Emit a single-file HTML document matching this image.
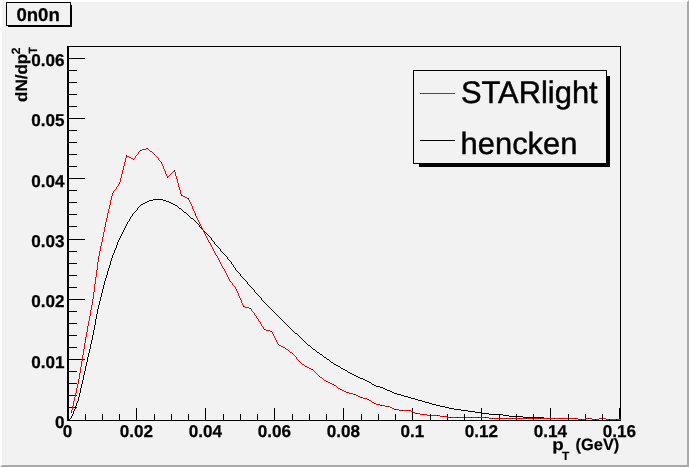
<!DOCTYPE html>
<html><head><meta charset="utf-8"><title>0n0n</title>
<style>
html,body{margin:0;padding:0;background:#f2f2f2;}
body{width:689px;height:467px;overflow:hidden;position:relative;font-family:"Liberation Sans",sans-serif;}
svg{position:absolute;left:0;top:0;display:block;will-change:transform;}
text{text-rendering:geometricPrecision;}
text{font-family:"Liberation Sans",sans-serif;fill:#000;}
.lab{font-size:17.1px;font-weight:bold;stroke:#000;stroke-width:0.25px;}
.ttl{font-size:16.4px;font-weight:bold;stroke:#000;stroke-width:0.2px;}
.sub{font-size:12px;font-weight:bold;stroke:#000;stroke-width:0.15px;}
.leg{font-size:30.9px;stroke:#000;stroke-width:0.45px;}
</style></head><body>
<svg width="689" height="467" viewBox="0 0 689 467">
<rect x="0" y="0" width="689" height="467" fill="#f2f2f2"/>
<!-- bevel -->
<rect x="0" y="0" width="689" height="2" fill="#ffffff"/>
<rect x="0" y="0" width="2" height="467" fill="#ffffff"/>
<polygon points="0,467 2,465 689,465 689,467" fill="#a9a9a9"/>
<polygon points="689,0 687,2 687,467 689,467" fill="#a9a9a9"/>
<g shape-rendering="crispEdges" fill="#000">
<!-- frame -->
<rect x="67" y="46" width="2" height="375"/>
<rect x="67" y="46" width="554" height="1"/>
<rect x="620" y="46" width="1" height="375"/>
<rect x="67" y="420" width="554" height="1"/>
<rect x="619" y="408" width="2" height="12"/>
<rect x="67" y="408" width="1" height="12"/><rect x="85" y="414" width="1" height="6"/><rect x="102" y="414" width="1" height="6"/><rect x="119" y="414" width="1" height="6"/><rect x="136" y="408" width="1" height="12"/><rect x="154" y="414" width="1" height="6"/><rect x="171" y="414" width="1" height="6"/><rect x="188" y="414" width="1" height="6"/><rect x="205" y="408" width="1" height="12"/><rect x="223" y="414" width="1" height="6"/><rect x="240" y="414" width="1" height="6"/><rect x="257" y="414" width="1" height="6"/><rect x="274" y="408" width="1" height="12"/><rect x="292" y="414" width="1" height="6"/><rect x="309" y="414" width="1" height="6"/><rect x="326" y="414" width="1" height="6"/><rect x="343" y="408" width="1" height="12"/><rect x="361" y="414" width="1" height="6"/><rect x="378" y="414" width="1" height="6"/><rect x="395" y="414" width="1" height="6"/><rect x="412" y="408" width="1" height="12"/><rect x="430" y="414" width="1" height="6"/><rect x="447" y="414" width="1" height="6"/><rect x="464" y="414" width="1" height="6"/><rect x="481" y="408" width="1" height="12"/><rect x="499" y="414" width="1" height="6"/><rect x="516" y="414" width="1" height="6"/><rect x="533" y="414" width="1" height="6"/><rect x="550" y="408" width="1" height="12"/><rect x="568" y="414" width="1" height="6"/><rect x="585" y="414" width="1" height="6"/><rect x="602" y="414" width="1" height="6"/><rect x="619" y="408" width="1" height="12"/><rect x="68" y="420" width="17" height="1"/><rect x="68" y="407" width="9" height="1"/><rect x="68" y="395" width="9" height="1"/><rect x="68" y="383" width="9" height="1"/><rect x="68" y="371" width="9" height="1"/><rect x="68" y="359" width="17" height="1"/><rect x="68" y="347" width="9" height="1"/><rect x="68" y="335" width="9" height="1"/><rect x="68" y="323" width="9" height="1"/><rect x="68" y="311" width="9" height="1"/><rect x="68" y="299" width="17" height="1"/><rect x="68" y="287" width="9" height="1"/><rect x="68" y="275" width="9" height="1"/><rect x="68" y="263" width="9" height="1"/><rect x="68" y="251" width="9" height="1"/><rect x="68" y="239" width="17" height="1"/><rect x="68" y="226" width="9" height="1"/><rect x="68" y="214" width="9" height="1"/><rect x="68" y="202" width="9" height="1"/><rect x="68" y="190" width="9" height="1"/><rect x="68" y="178" width="17" height="1"/><rect x="68" y="166" width="9" height="1"/><rect x="68" y="154" width="9" height="1"/><rect x="68" y="142" width="9" height="1"/><rect x="68" y="130" width="9" height="1"/><rect x="68" y="118" width="17" height="1"/><rect x="68" y="106" width="9" height="1"/><rect x="68" y="94" width="9" height="1"/><rect x="68" y="82" width="9" height="1"/><rect x="68" y="70" width="9" height="1"/><rect x="68" y="58" width="17" height="1"/>
</g>
<g shape-rendering="crispEdges" fill="#000"><rect x="68" y="420" width="1" height="1"/><rect x="69" y="419" width="1" height="1"/><rect x="70" y="418" width="1" height="1"/><rect x="71" y="416" width="1" height="2"/><rect x="72" y="414" width="1" height="2"/><rect x="73" y="411" width="1" height="3"/><rect x="74" y="409" width="1" height="2"/><rect x="75" y="406" width="1" height="3"/><rect x="76" y="403" width="1" height="3"/><rect x="77" y="401" width="1" height="2"/><rect x="78" y="397" width="1" height="4"/><rect x="79" y="393" width="1" height="4"/><rect x="80" y="388" width="1" height="5"/><rect x="81" y="384" width="1" height="4"/><rect x="82" y="380" width="1" height="4"/><rect x="83" y="375" width="1" height="5"/><rect x="84" y="371" width="1" height="4"/><rect x="85" y="366" width="1" height="5"/><rect x="86" y="362" width="1" height="4"/><rect x="87" y="357" width="1" height="5"/><rect x="88" y="353" width="1" height="4"/><rect x="89" y="349" width="1" height="4"/><rect x="90" y="344" width="1" height="5"/><rect x="91" y="340" width="1" height="4"/><rect x="92" y="335" width="1" height="5"/><rect x="93" y="330" width="1" height="5"/><rect x="94" y="325" width="1" height="5"/><rect x="95" y="319" width="1" height="6"/><rect x="96" y="314" width="1" height="5"/><rect x="97" y="309" width="1" height="5"/><rect x="98" y="305" width="1" height="4"/><rect x="99" y="301" width="1" height="4"/><rect x="100" y="297" width="1" height="4"/><rect x="101" y="293" width="1" height="4"/><rect x="102" y="289" width="1" height="4"/><rect x="103" y="285" width="1" height="4"/><rect x="104" y="281" width="1" height="4"/><rect x="105" y="278" width="1" height="3"/><rect x="106" y="275" width="1" height="3"/><rect x="107" y="271" width="1" height="4"/><rect x="108" y="268" width="1" height="3"/><rect x="109" y="265" width="1" height="3"/><rect x="110" y="261" width="1" height="4"/><rect x="111" y="258" width="1" height="3"/><rect x="112" y="255" width="1" height="3"/><rect x="113" y="253" width="1" height="2"/><rect x="114" y="250" width="1" height="3"/><rect x="115" y="248" width="1" height="2"/><rect x="116" y="245" width="1" height="3"/><rect x="117" y="242" width="1" height="3"/><rect x="118" y="240" width="1" height="2"/><rect x="119" y="238" width="1" height="2"/><rect x="120" y="236" width="1" height="2"/><rect x="121" y="234" width="1" height="2"/><rect x="122" y="232" width="1" height="2"/><rect x="123" y="230" width="1" height="2"/><rect x="124" y="228" width="1" height="2"/><rect x="125" y="226" width="1" height="2"/><rect x="126" y="224" width="1" height="2"/><rect x="127" y="222" width="1" height="2"/><rect x="128" y="221" width="1" height="1"/><rect x="129" y="219" width="1" height="2"/><rect x="130" y="217" width="1" height="2"/><rect x="131" y="216" width="1" height="1"/><rect x="132" y="214" width="1" height="2"/><rect x="133" y="213" width="1" height="1"/><rect x="134" y="212" width="1" height="1"/><rect x="135" y="211" width="1" height="1"/><rect x="136" y="210" width="1" height="1"/><rect x="137" y="208" width="1" height="2"/><rect x="138" y="207" width="1" height="1"/><rect x="139" y="206" width="1" height="1"/><rect x="140" y="205" width="1" height="1"/><rect x="141" y="204" width="2" height="1"/><rect x="143" y="203" width="2" height="1"/><rect x="145" y="202" width="2" height="1"/><rect x="147" y="201" width="2" height="1"/><rect x="149" y="200" width="4" height="1"/><rect x="153" y="199" width="10" height="1"/><rect x="163" y="200" width="3" height="1"/><rect x="166" y="201" width="3" height="1"/><rect x="169" y="202" width="2" height="1"/><rect x="171" y="203" width="2" height="1"/><rect x="173" y="204" width="2" height="1"/><rect x="175" y="205" width="2" height="1"/><rect x="177" y="206" width="1" height="1"/><rect x="178" y="207" width="1" height="1"/><rect x="179" y="208" width="2" height="1"/><rect x="181" y="209" width="1" height="1"/><rect x="182" y="210" width="1" height="1"/><rect x="183" y="211" width="1" height="1"/><rect x="184" y="212" width="2" height="1"/><rect x="186" y="213" width="1" height="1"/><rect x="187" y="214" width="1" height="1"/><rect x="188" y="215" width="1" height="1"/><rect x="189" y="216" width="1" height="1"/><rect x="190" y="217" width="1" height="1"/><rect x="191" y="218" width="2" height="1"/><rect x="193" y="219" width="1" height="1"/><rect x="194" y="220" width="1" height="1"/><rect x="195" y="221" width="1" height="1"/><rect x="196" y="222" width="1" height="1"/><rect x="197" y="223" width="1" height="1"/><rect x="198" y="224" width="1" height="1"/><rect x="199" y="225" width="1" height="2"/><rect x="200" y="227" width="1" height="1"/><rect x="201" y="228" width="1" height="1"/><rect x="202" y="229" width="1" height="1"/><rect x="203" y="230" width="1" height="1"/><rect x="204" y="231" width="1" height="1"/><rect x="205" y="232" width="1" height="1"/><rect x="206" y="233" width="1" height="1"/><rect x="207" y="234" width="1" height="1"/><rect x="208" y="235" width="1" height="1"/><rect x="209" y="236" width="1" height="1"/><rect x="210" y="237" width="1" height="1"/><rect x="211" y="238" width="1" height="2"/><rect x="212" y="240" width="1" height="1"/><rect x="213" y="241" width="1" height="1"/><rect x="214" y="242" width="1" height="2"/><rect x="215" y="244" width="1" height="1"/><rect x="216" y="245" width="1" height="1"/><rect x="217" y="246" width="1" height="1"/><rect x="218" y="247" width="1" height="1"/><rect x="219" y="248" width="1" height="1"/><rect x="220" y="249" width="1" height="2"/><rect x="221" y="251" width="1" height="1"/><rect x="222" y="252" width="1" height="1"/><rect x="223" y="253" width="1" height="1"/><rect x="224" y="254" width="1" height="1"/><rect x="225" y="255" width="1" height="1"/><rect x="226" y="256" width="1" height="1"/><rect x="227" y="257" width="1" height="2"/><rect x="228" y="259" width="1" height="1"/><rect x="229" y="260" width="1" height="1"/><rect x="230" y="261" width="1" height="1"/><rect x="231" y="262" width="1" height="2"/><rect x="232" y="264" width="1" height="1"/><rect x="233" y="265" width="1" height="2"/><rect x="234" y="267" width="1" height="1"/><rect x="235" y="268" width="1" height="2"/><rect x="236" y="270" width="1" height="1"/><rect x="237" y="271" width="1" height="1"/><rect x="238" y="272" width="1" height="1"/><rect x="239" y="273" width="1" height="1"/><rect x="240" y="274" width="1" height="2"/><rect x="241" y="276" width="1" height="1"/><rect x="242" y="277" width="1" height="1"/><rect x="243" y="278" width="1" height="1"/><rect x="244" y="279" width="1" height="1"/><rect x="245" y="280" width="1" height="1"/><rect x="246" y="281" width="1" height="1"/><rect x="247" y="282" width="1" height="2"/><rect x="248" y="284" width="1" height="1"/><rect x="249" y="285" width="1" height="1"/><rect x="250" y="286" width="1" height="1"/><rect x="251" y="287" width="1" height="1"/><rect x="252" y="288" width="1" height="1"/><rect x="253" y="289" width="1" height="1"/><rect x="254" y="290" width="1" height="2"/><rect x="255" y="292" width="1" height="1"/><rect x="256" y="293" width="1" height="1"/><rect x="257" y="294" width="1" height="1"/><rect x="258" y="295" width="1" height="1"/><rect x="259" y="296" width="1" height="1"/><rect x="260" y="297" width="1" height="1"/><rect x="261" y="298" width="1" height="2"/><rect x="262" y="300" width="1" height="1"/><rect x="263" y="301" width="1" height="1"/><rect x="264" y="302" width="1" height="1"/><rect x="265" y="303" width="1" height="1"/><rect x="266" y="304" width="1" height="1"/><rect x="267" y="305" width="1" height="1"/><rect x="268" y="306" width="1" height="1"/><rect x="269" y="307" width="1" height="1"/><rect x="270" y="308" width="1" height="1"/><rect x="271" y="309" width="1" height="1"/><rect x="272" y="310" width="1" height="1"/><rect x="273" y="311" width="1" height="1"/><rect x="274" y="312" width="1" height="1"/><rect x="275" y="313" width="1" height="1"/><rect x="276" y="314" width="1" height="1"/><rect x="277" y="315" width="1" height="1"/><rect x="278" y="316" width="1" height="1"/><rect x="279" y="317" width="1" height="1"/><rect x="280" y="318" width="1" height="1"/><rect x="281" y="319" width="1" height="1"/><rect x="282" y="320" width="1" height="1"/><rect x="283" y="321" width="1" height="1"/><rect x="284" y="322" width="1" height="1"/><rect x="285" y="323" width="1" height="1"/><rect x="286" y="324" width="1" height="1"/><rect x="287" y="325" width="1" height="1"/><rect x="288" y="326" width="1" height="1"/><rect x="289" y="327" width="1" height="1"/><rect x="290" y="328" width="1" height="1"/><rect x="291" y="329" width="1" height="1"/><rect x="292" y="330" width="1" height="1"/><rect x="293" y="331" width="1" height="1"/><rect x="294" y="332" width="1" height="1"/><rect x="295" y="333" width="2" height="1"/><rect x="297" y="334" width="1" height="1"/><rect x="298" y="335" width="1" height="1"/><rect x="299" y="336" width="1" height="1"/><rect x="300" y="337" width="1" height="1"/><rect x="301" y="338" width="1" height="1"/><rect x="302" y="339" width="1" height="1"/><rect x="303" y="340" width="1" height="1"/><rect x="304" y="341" width="1" height="1"/><rect x="305" y="342" width="1" height="1"/><rect x="306" y="343" width="1" height="1"/><rect x="307" y="344" width="1" height="1"/><rect x="308" y="345" width="2" height="1"/><rect x="310" y="346" width="1" height="1"/><rect x="311" y="347" width="1" height="1"/><rect x="312" y="348" width="1" height="1"/><rect x="313" y="349" width="2" height="1"/><rect x="315" y="350" width="1" height="1"/><rect x="316" y="351" width="1" height="1"/><rect x="317" y="352" width="2" height="1"/><rect x="319" y="353" width="1" height="1"/><rect x="320" y="354" width="2" height="1"/><rect x="322" y="355" width="1" height="1"/><rect x="323" y="356" width="1" height="1"/><rect x="324" y="357" width="2" height="1"/><rect x="326" y="358" width="1" height="1"/><rect x="327" y="359" width="2" height="1"/><rect x="329" y="360" width="1" height="1"/><rect x="330" y="361" width="1" height="1"/><rect x="331" y="362" width="2" height="1"/><rect x="333" y="363" width="1" height="1"/><rect x="334" y="364" width="2" height="1"/><rect x="336" y="365" width="2" height="1"/><rect x="338" y="366" width="2" height="1"/><rect x="340" y="367" width="1" height="1"/><rect x="341" y="368" width="2" height="1"/><rect x="343" y="369" width="2" height="1"/><rect x="345" y="370" width="2" height="1"/><rect x="347" y="371" width="1" height="1"/><rect x="348" y="372" width="2" height="1"/><rect x="350" y="373" width="2" height="1"/><rect x="352" y="374" width="2" height="1"/><rect x="354" y="375" width="2" height="1"/><rect x="356" y="376" width="2" height="1"/><rect x="358" y="377" width="2" height="1"/><rect x="360" y="378" width="3" height="1"/><rect x="363" y="379" width="2" height="1"/><rect x="365" y="380" width="2" height="1"/><rect x="367" y="381" width="2" height="1"/><rect x="369" y="382" width="2" height="1"/><rect x="371" y="383" width="1" height="1"/><rect x="372" y="384" width="2" height="1"/><rect x="374" y="385" width="2" height="1"/><rect x="376" y="386" width="4" height="1"/><rect x="380" y="387" width="3" height="1"/><rect x="383" y="388" width="2" height="1"/><rect x="385" y="389" width="2" height="1"/><rect x="387" y="390" width="3" height="1"/><rect x="390" y="391" width="2" height="1"/><rect x="392" y="392" width="2" height="1"/><rect x="394" y="393" width="3" height="1"/><rect x="397" y="394" width="4" height="1"/><rect x="401" y="395" width="3" height="1"/><rect x="404" y="396" width="4" height="1"/><rect x="408" y="397" width="3" height="1"/><rect x="411" y="398" width="4" height="1"/><rect x="415" y="399" width="3" height="1"/><rect x="418" y="400" width="4" height="1"/><rect x="422" y="401" width="3" height="1"/><rect x="425" y="402" width="4" height="1"/><rect x="429" y="403" width="3" height="1"/><rect x="432" y="404" width="4" height="1"/><rect x="436" y="405" width="4" height="1"/><rect x="440" y="406" width="5" height="1"/><rect x="445" y="407" width="4" height="1"/><rect x="449" y="408" width="5" height="1"/><rect x="454" y="409" width="7" height="1"/><rect x="461" y="410" width="7" height="1"/><rect x="468" y="411" width="7" height="1"/><rect x="475" y="412" width="7" height="1"/><rect x="482" y="413" width="7" height="1"/><rect x="489" y="414" width="14" height="1"/><rect x="503" y="415" width="6" height="1"/><rect x="509" y="416" width="14" height="1"/><rect x="523" y="417" width="21" height="1"/><rect x="544" y="418" width="34" height="1"/><rect x="578" y="419" width="7" height="1"/><rect x="585" y="418" width="7" height="1"/><rect x="592" y="419" width="7" height="1"/><rect x="599" y="418" width="7" height="1"/><rect x="606" y="419" width="15" height="1"/></g>
<g shape-rendering="crispEdges" fill="#ff0000"><rect x="71" y="410" width="1" height="3"/><rect x="72" y="406" width="1" height="4"/><rect x="73" y="401" width="1" height="5"/><rect x="74" y="397" width="1" height="4"/><rect x="75" y="393" width="1" height="4"/><rect x="76" y="388" width="1" height="5"/><rect x="77" y="384" width="1" height="4"/><rect x="78" y="379" width="1" height="5"/><rect x="79" y="373" width="1" height="6"/><rect x="80" y="367" width="1" height="6"/><rect x="81" y="361" width="1" height="6"/><rect x="82" y="355" width="1" height="6"/><rect x="83" y="349" width="1" height="6"/><rect x="84" y="343" width="1" height="6"/><rect x="85" y="337" width="1" height="6"/><rect x="86" y="332" width="1" height="5"/><rect x="87" y="326" width="1" height="6"/><rect x="88" y="321" width="1" height="5"/><rect x="89" y="316" width="1" height="5"/><rect x="90" y="310" width="1" height="6"/><rect x="91" y="305" width="1" height="5"/><rect x="92" y="299" width="1" height="6"/><rect x="93" y="292" width="1" height="7"/><rect x="94" y="284" width="1" height="8"/><rect x="95" y="277" width="1" height="7"/><rect x="96" y="270" width="1" height="7"/><rect x="97" y="262" width="1" height="8"/><rect x="98" y="256" width="1" height="6"/><rect x="99" y="251" width="1" height="5"/><rect x="100" y="246" width="1" height="5"/><rect x="101" y="242" width="1" height="4"/><rect x="102" y="237" width="1" height="5"/><rect x="103" y="232" width="1" height="5"/><rect x="104" y="227" width="1" height="5"/><rect x="105" y="222" width="1" height="5"/><rect x="106" y="218" width="1" height="4"/><rect x="107" y="213" width="1" height="5"/><rect x="108" y="209" width="1" height="4"/><rect x="109" y="205" width="1" height="4"/><rect x="110" y="200" width="1" height="5"/><rect x="111" y="196" width="1" height="4"/><rect x="112" y="193" width="1" height="3"/><rect x="113" y="191" width="1" height="2"/><rect x="114" y="190" width="1" height="1"/><rect x="115" y="189" width="1" height="1"/><rect x="116" y="187" width="1" height="2"/><rect x="117" y="186" width="1" height="1"/><rect x="118" y="184" width="1" height="2"/><rect x="119" y="182" width="1" height="2"/><rect x="120" y="178" width="1" height="4"/><rect x="121" y="174" width="1" height="4"/><rect x="122" y="170" width="1" height="4"/><rect x="123" y="166" width="1" height="4"/><rect x="124" y="162" width="1" height="4"/><rect x="125" y="158" width="1" height="4"/><rect x="126" y="155" width="1" height="3"/><rect x="127" y="156" width="2" height="1"/><rect x="129" y="157" width="2" height="1"/><rect x="131" y="158" width="2" height="1"/><rect x="133" y="159" width="1" height="1"/><rect x="134" y="158" width="1" height="1"/><rect x="135" y="156" width="1" height="2"/><rect x="136" y="155" width="1" height="1"/><rect x="137" y="154" width="1" height="1"/><rect x="138" y="152" width="1" height="2"/><rect x="139" y="151" width="1" height="1"/><rect x="140" y="150" width="2" height="1"/><rect x="142" y="149" width="4" height="1"/><rect x="146" y="148" width="2" height="1"/><rect x="148" y="149" width="1" height="1"/><rect x="149" y="150" width="1" height="1"/><rect x="150" y="151" width="2" height="1"/><rect x="152" y="152" width="1" height="1"/><rect x="153" y="153" width="1" height="1"/><rect x="154" y="154" width="1" height="1"/><rect x="155" y="155" width="1" height="1"/><rect x="156" y="156" width="1" height="1"/><rect x="157" y="157" width="1" height="1"/><rect x="158" y="158" width="1" height="2"/><rect x="159" y="160" width="1" height="1"/><rect x="160" y="161" width="1" height="1"/><rect x="161" y="162" width="1" height="2"/><rect x="162" y="164" width="1" height="2"/><rect x="163" y="166" width="1" height="3"/><rect x="164" y="169" width="1" height="2"/><rect x="165" y="171" width="1" height="3"/><rect x="166" y="174" width="1" height="2"/><rect x="167" y="176" width="2" height="1"/><rect x="167" y="177" width="1" height="1"/><rect x="169" y="175" width="1" height="1"/><rect x="170" y="174" width="1" height="1"/><rect x="171" y="173" width="1" height="1"/><rect x="172" y="172" width="1" height="1"/><rect x="173" y="171" width="2" height="1"/><rect x="174" y="170" width="1" height="1"/><rect x="175" y="172" width="1" height="4"/><rect x="176" y="176" width="1" height="3"/><rect x="177" y="179" width="1" height="4"/><rect x="178" y="183" width="1" height="4"/><rect x="179" y="187" width="1" height="3"/><rect x="180" y="190" width="1" height="4"/><rect x="181" y="194" width="1" height="2"/><rect x="182" y="195" width="1" height="1"/><rect x="183" y="196" width="2" height="1"/><rect x="185" y="197" width="2" height="1"/><rect x="187" y="198" width="2" height="1"/><rect x="188" y="199" width="1" height="1"/><rect x="189" y="200" width="1" height="2"/><rect x="190" y="202" width="1" height="2"/><rect x="191" y="204" width="1" height="2"/><rect x="192" y="206" width="1" height="3"/><rect x="193" y="209" width="1" height="2"/><rect x="194" y="211" width="1" height="2"/><rect x="195" y="213" width="1" height="3"/><rect x="196" y="216" width="1" height="2"/><rect x="197" y="218" width="1" height="2"/><rect x="198" y="220" width="1" height="2"/><rect x="199" y="222" width="1" height="2"/><rect x="200" y="224" width="1" height="2"/><rect x="201" y="226" width="1" height="2"/><rect x="202" y="228" width="1" height="2"/><rect x="203" y="230" width="1" height="2"/><rect x="204" y="232" width="1" height="2"/><rect x="205" y="234" width="1" height="2"/><rect x="206" y="236" width="1" height="2"/><rect x="207" y="238" width="1" height="2"/><rect x="208" y="240" width="1" height="2"/><rect x="209" y="242" width="1" height="1"/><rect x="210" y="243" width="1" height="2"/><rect x="211" y="245" width="1" height="2"/><rect x="212" y="247" width="1" height="2"/><rect x="213" y="249" width="1" height="2"/><rect x="214" y="251" width="1" height="2"/><rect x="215" y="253" width="1" height="2"/><rect x="216" y="255" width="1" height="1"/><rect x="217" y="256" width="1" height="2"/><rect x="218" y="258" width="1" height="2"/><rect x="219" y="260" width="1" height="2"/><rect x="220" y="262" width="1" height="2"/><rect x="221" y="264" width="1" height="2"/><rect x="222" y="266" width="1" height="2"/><rect x="223" y="268" width="1" height="1"/><rect x="224" y="269" width="1" height="2"/><rect x="225" y="271" width="1" height="2"/><rect x="226" y="273" width="1" height="2"/><rect x="227" y="275" width="1" height="2"/><rect x="228" y="277" width="1" height="2"/><rect x="229" y="279" width="1" height="2"/><rect x="230" y="281" width="1" height="1"/><rect x="231" y="282" width="1" height="1"/><rect x="232" y="283" width="1" height="2"/><rect x="233" y="285" width="1" height="1"/><rect x="234" y="286" width="1" height="1"/><rect x="235" y="287" width="1" height="2"/><rect x="236" y="289" width="1" height="2"/><rect x="237" y="291" width="1" height="2"/><rect x="238" y="293" width="1" height="3"/><rect x="239" y="296" width="1" height="2"/><rect x="240" y="298" width="1" height="2"/><rect x="241" y="300" width="1" height="3"/><rect x="242" y="303" width="1" height="2"/><rect x="243" y="305" width="1" height="2"/><rect x="244" y="306" width="1" height="1"/><rect x="245" y="307" width="4" height="1"/><rect x="249" y="308" width="2" height="1"/><rect x="251" y="309" width="1" height="2"/><rect x="252" y="311" width="1" height="1"/><rect x="253" y="312" width="1" height="1"/><rect x="254" y="313" width="1" height="2"/><rect x="255" y="315" width="1" height="1"/><rect x="256" y="316" width="1" height="2"/><rect x="257" y="318" width="1" height="1"/><rect x="258" y="319" width="1" height="2"/><rect x="259" y="321" width="1" height="1"/><rect x="260" y="322" width="1" height="2"/><rect x="261" y="324" width="1" height="2"/><rect x="262" y="326" width="1" height="1"/><rect x="263" y="327" width="1" height="2"/><rect x="264" y="329" width="2" height="1"/><rect x="266" y="330" width="4" height="1"/><rect x="270" y="331" width="2" height="1"/><rect x="272" y="332" width="1" height="2"/><rect x="273" y="334" width="1" height="2"/><rect x="274" y="336" width="1" height="2"/><rect x="275" y="338" width="1" height="2"/><rect x="276" y="340" width="1" height="2"/><rect x="277" y="342" width="1" height="2"/><rect x="278" y="344" width="1" height="1"/><rect x="279" y="345" width="2" height="1"/><rect x="281" y="346" width="2" height="1"/><rect x="283" y="347" width="2" height="1"/><rect x="285" y="348" width="1" height="1"/><rect x="286" y="349" width="2" height="1"/><rect x="288" y="350" width="1" height="1"/><rect x="289" y="351" width="1" height="1"/><rect x="290" y="352" width="2" height="1"/><rect x="292" y="353" width="1" height="1"/><rect x="293" y="354" width="1" height="1"/><rect x="294" y="355" width="1" height="1"/><rect x="295" y="356" width="1" height="1"/><rect x="296" y="357" width="1" height="2"/><rect x="297" y="359" width="1" height="1"/><rect x="298" y="360" width="1" height="1"/><rect x="299" y="361" width="1" height="1"/><rect x="300" y="362" width="1" height="1"/><rect x="301" y="363" width="1" height="1"/><rect x="302" y="364" width="2" height="1"/><rect x="304" y="365" width="1" height="1"/><rect x="305" y="366" width="2" height="1"/><rect x="307" y="367" width="2" height="1"/><rect x="309" y="368" width="2" height="1"/><rect x="311" y="369" width="2" height="1"/><rect x="313" y="370" width="1" height="1"/><rect x="314" y="371" width="1" height="1"/><rect x="315" y="372" width="1" height="1"/><rect x="316" y="373" width="1" height="1"/><rect x="317" y="374" width="1" height="1"/><rect x="318" y="375" width="1" height="1"/><rect x="319" y="376" width="1" height="1"/><rect x="320" y="377" width="2" height="1"/><rect x="322" y="378" width="1" height="1"/><rect x="323" y="379" width="1" height="1"/><rect x="324" y="380" width="2" height="1"/><rect x="326" y="381" width="2" height="1"/><rect x="328" y="382" width="2" height="1"/><rect x="330" y="383" width="2" height="1"/><rect x="332" y="384" width="2" height="1"/><rect x="334" y="385" width="2" height="1"/><rect x="336" y="386" width="1" height="1"/><rect x="337" y="387" width="1" height="1"/><rect x="338" y="388" width="2" height="1"/><rect x="340" y="389" width="2" height="1"/><rect x="342" y="390" width="2" height="1"/><rect x="344" y="391" width="2" height="1"/><rect x="346" y="392" width="3" height="1"/><rect x="349" y="393" width="4" height="1"/><rect x="353" y="394" width="3" height="1"/><rect x="356" y="395" width="2" height="1"/><rect x="358" y="396" width="2" height="1"/><rect x="360" y="397" width="3" height="1"/><rect x="363" y="398" width="4" height="1"/><rect x="367" y="399" width="2" height="1"/><rect x="369" y="400" width="2" height="1"/><rect x="371" y="401" width="1" height="1"/><rect x="372" y="402" width="2" height="1"/><rect x="374" y="403" width="2" height="1"/><rect x="376" y="404" width="4" height="1"/><rect x="380" y="405" width="5" height="1"/><rect x="385" y="406" width="5" height="1"/><rect x="390" y="407" width="2" height="1"/><rect x="392" y="408" width="2" height="1"/><rect x="394" y="409" width="5" height="1"/><rect x="399" y="410" width="12" height="1"/><rect x="411" y="411" width="2" height="1"/><rect x="413" y="412" width="2" height="1"/><rect x="415" y="413" width="5" height="1"/><rect x="420" y="414" width="7" height="1"/><rect x="427" y="415" width="13" height="1"/><rect x="440" y="416" width="7" height="1"/><rect x="447" y="417" width="42" height="1"/><rect x="489" y="418" width="89" height="1"/><rect x="578" y="419" width="7" height="1"/><rect x="585" y="418" width="7" height="1"/><rect x="592" y="419" width="7" height="1"/><rect x="599" y="418" width="7" height="1"/><rect x="606" y="419" width="15" height="1"/></g>
<g shape-rendering="crispEdges" fill="#000"><rect x="71" y="412" width="1" height="1"/><rect x="78" y="381" width="1" height="1"/><rect x="85" y="339" width="1" height="1"/><rect x="92" y="302" width="1" height="1"/><rect x="98" y="258" width="1" height="1"/><rect x="105" y="224" width="1" height="1"/><rect x="112" y="193" width="1" height="1"/><rect x="119" y="183" width="1" height="1"/><rect x="126" y="155" width="1" height="1"/><rect x="133" y="159" width="1" height="1"/><rect x="140" y="150" width="1" height="1"/><rect x="147" y="148" width="1" height="1"/><rect x="154" y="154" width="1" height="1"/><rect x="161" y="162" width="1" height="1"/><rect x="167" y="177" width="1" height="1"/><rect x="174" y="170" width="1" height="1"/><rect x="181" y="195" width="1" height="1"/><rect x="188" y="198" width="1" height="1"/><rect x="195" y="214" width="1" height="1"/><rect x="202" y="229" width="1" height="1"/><rect x="209" y="242" width="1" height="1"/><rect x="216" y="255" width="1" height="1"/><rect x="223" y="268" width="1" height="1"/><rect x="230" y="281" width="1" height="1"/><rect x="236" y="289" width="1" height="1"/><rect x="243" y="306" width="1" height="1"/><rect x="250" y="308" width="1" height="1"/><rect x="257" y="318" width="1" height="1"/><rect x="264" y="329" width="1" height="1"/><rect x="271" y="331" width="1" height="1"/><rect x="278" y="344" width="1" height="1"/><rect x="285" y="348" width="1" height="1"/><rect x="292" y="353" width="1" height="1"/><rect x="299" y="361" width="1" height="1"/><rect x="305" y="366" width="1" height="1"/><rect x="312" y="369" width="1" height="1"/><rect x="319" y="376" width="1" height="1"/><rect x="326" y="381" width="1" height="1"/><rect x="333" y="384" width="1" height="1"/><rect x="340" y="389" width="1" height="1"/><rect x="347" y="392" width="1" height="1"/><rect x="354" y="394" width="1" height="1"/><rect x="361" y="397" width="1" height="1"/><rect x="368" y="399" width="1" height="1"/><rect x="374" y="403" width="1" height="1"/><rect x="381" y="405" width="1" height="1"/><rect x="388" y="406" width="1" height="1"/><rect x="395" y="409" width="1" height="1"/><rect x="402" y="410" width="1" height="1"/><rect x="409" y="410" width="1" height="1"/><rect x="416" y="413" width="1" height="1"/><rect x="423" y="414" width="1" height="1"/><rect x="430" y="415" width="1" height="1"/><rect x="437" y="415" width="1" height="1"/><rect x="443" y="416" width="1" height="1"/><rect x="450" y="417" width="1" height="1"/><rect x="457" y="417" width="1" height="1"/><rect x="464" y="417" width="1" height="1"/><rect x="471" y="417" width="1" height="1"/><rect x="478" y="417" width="1" height="1"/><rect x="485" y="417" width="1" height="1"/><rect x="492" y="418" width="1" height="1"/><rect x="499" y="418" width="1" height="1"/><rect x="506" y="418" width="1" height="1"/><rect x="512" y="418" width="1" height="1"/><rect x="519" y="418" width="1" height="1"/><rect x="526" y="418" width="1" height="1"/><rect x="533" y="418" width="1" height="1"/><rect x="540" y="418" width="1" height="1"/><rect x="547" y="418" width="1" height="1"/><rect x="554" y="418" width="1" height="1"/><rect x="561" y="418" width="1" height="1"/><rect x="568" y="418" width="1" height="1"/><rect x="575" y="418" width="1" height="1"/><rect x="581" y="419" width="1" height="1"/><rect x="588" y="418" width="1" height="1"/><rect x="595" y="419" width="1" height="1"/><rect x="602" y="418" width="1" height="1"/><rect x="609" y="419" width="1" height="1"/><rect x="616" y="419" width="1" height="1"/></g>
<text x="67.5" y="437" text-anchor="middle" class="lab">0</text><text x="136.5" y="437" text-anchor="middle" class="lab">0.02</text><text x="205.5" y="437" text-anchor="middle" class="lab">0.04</text><text x="274.5" y="437" text-anchor="middle" class="lab">0.06</text><text x="343.5" y="437" text-anchor="middle" class="lab">0.08</text><text x="412.5" y="437" text-anchor="middle" class="lab">0.1</text><text x="481.5" y="437" text-anchor="middle" class="lab">0.12</text><text x="550.5" y="437" text-anchor="middle" class="lab">0.14</text><text x="619.5" y="437" text-anchor="middle" class="lab">0.16</text>
<text x="64.5" y="427.8" text-anchor="end" class="lab">0</text><text x="64.5" y="367.5" text-anchor="end" class="lab">0.01</text><text x="64.5" y="307.1" text-anchor="end" class="lab">0.02</text><text x="64.5" y="246.8" text-anchor="end" class="lab">0.03</text><text x="64.5" y="186.5" text-anchor="end" class="lab">0.04</text><text x="64.5" y="126.2" text-anchor="end" class="lab">0.05</text><text x="64.5" y="65.8" text-anchor="end" class="lab">0.06</text>
<!-- title box -->
<g shape-rendering="crispEdges">
<rect x="8" y="5" width="64" height="22" fill="#000"/>
<rect x="6" y="2" width="65" height="24" fill="#000"/>
<rect x="7" y="3" width="63" height="22" fill="#f2f2f2"/>
</g>
<text x="38.1" y="21.4" text-anchor="middle" style="font-size:18.6px;font-weight:bold;stroke:#000;stroke-width:0.25px">0n0n</text>
<!-- legend -->
<g shape-rendering="crispEdges">
<rect x="419" y="76" width="191" height="91" fill="#000"/>
<rect x="413" y="70" width="194" height="94" fill="#000"/>
<rect x="414" y="71" width="192" height="92" fill="#f2f2f2"/>
<rect x="420" y="93" width="35" height="1" fill="#ff0000"/>
<rect x="420" y="140" width="35" height="1" fill="#000"/>
</g>
<text transform="translate(460.9,102.7) scale(1,1.012)" class="leg">STARlight</text>
<text x="460.6" y="153.8" class="leg">hencken</text>
<!-- x title -->
<text transform="translate(552.2,450.2) scale(1.14,1)" class="ttl">p</text>
<text x="561.9" y="460.2" class="sub">T</text>
<text x="575.6" y="450.2" class="ttl">(GeV)</text>
<!-- y title -->
<g transform="translate(26.5,102) rotate(-90)">
<text transform="scale(1.04,1)" x="0" y="0" class="ttl">dN/dp</text>
<text x="47.8" y="-6.8" class="sub">2</text>
<text transform="translate(48.4,10.3) scale(0.86,1)" class="sub">T</text>
</g>
</svg>
</body></html>
